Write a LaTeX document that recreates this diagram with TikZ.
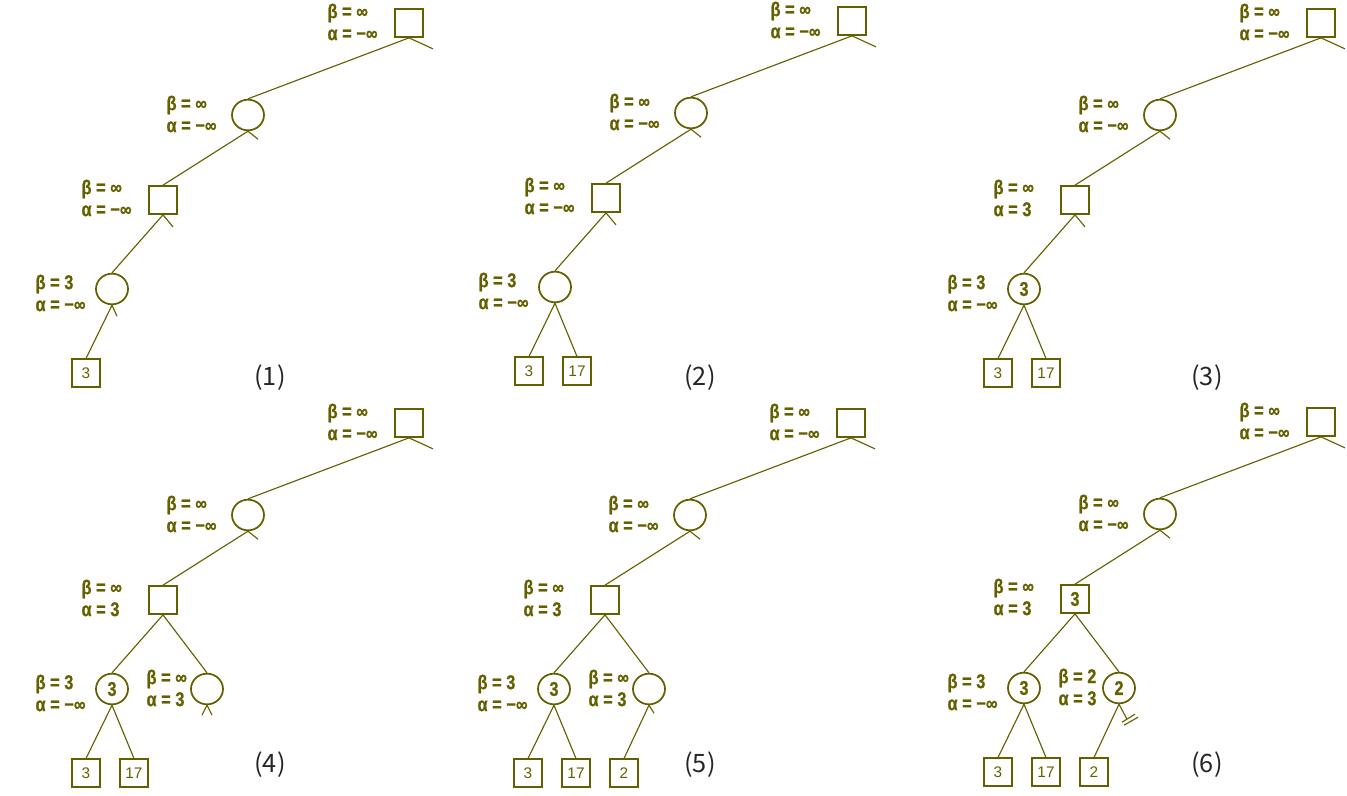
\documentclass[tikz,border=0pt]{standalone}
\usepackage{fontspec}
\usepackage{tikz}
\usetikzlibrary{shapes.geometric}
\newfontfamily\labfont[FakeStretch=0.82,FakeBold=0.6]{Liberation Sans}
\newfontfamily\leaffont{Liberation Sans}
\newfontfamily\capfont{Noto Sans CJK JP}
\definecolor{treeolive}{RGB}{100,96,0}

\begin{document}
\begin{tikzpicture}[x=0.75pt, y=-0.75pt, treeolive, line width=0.85pt,
    maxnode/.style={draw, rectangle, minimum size=21pt, inner sep=0pt, line width=1.3pt,
      font=\labfont\bfseries\fontsize{15}{16}\selectfont},
    minnode/.style={draw, ellipse, minimum width=24pt, minimum height=23pt, inner sep=0pt, line width=1.3pt,
      font=\labfont\bfseries\fontsize{15}{16}\selectfont},
    leaf/.style={draw, rectangle, minimum size=20.5pt, inner sep=0pt, line width=1.3pt,
      font=\leaffont\fontsize{11.5}{12}\selectfont},
    ab/.style={anchor=west, align=left, inner sep=0pt,
      font=\labfont\bfseries\fontsize{15}{16.5}\selectfont},
    caption/.style={text=black!85, font=\capfont\fontsize{19}{20}\selectfont}]
  \useasboundingbox (0,0) rectangle (1347,796);

  % upper part, same in every step
  \foreach \p/\dx/\dy/\cx/\cy in {1/0/0/270/378, 2/443/-2/257/380, 3/912/0/295/378,
                                 4/0/400/270/365, 5/442/400/258/365, 6/912/399/295/366}{
    \begin{scope}[shift={(\dx,\dy)}]
      \node[maxnode] (r\p) at (409,23) {};
      \node[ab] (rlab\p) at (327,22) {β = ∞\\α = −∞};
      \node[minnode] (u\p) at (248,115) {};
      \node[ab] (ulab\p) at (166,114) {β = ∞\\α = −∞};
      \node[caption] (cap\p) at (\cx,\cy) {(\p)};
      \draw (r\p.south) -- (u\p.north);
      \draw (r\p.south) -- ++(24,11);
      \draw (u\p.south) -- ++(10,8);
    \end{scope}
  }

  % step 1
  \begin{scope}
    \node[maxnode] (q1) at (163,200) {};
    \node[ab] (qlab1) at (81,198) {β = ∞\\α = −∞};
    \node[minnode] (a1) at (112,289) {};
    \node[ab] (alab1) at (35,293) {β = 3\\α = −∞};
    \node[leaf] (x1) at (86,373) {3};
    \draw (u1.south) -- (q1.north);
    \draw (q1.south) -- ++(10,12);
    \draw (q1.south) -- (a1.north);
    \draw (a1.south) -- ++(5,11);
    \draw (a1.south) -- (x1.north);
  \end{scope}

  % step 2
  \begin{scope}[shift={(443,-2)}]
    \node[maxnode] (q2) at (163,200) {};
    \node[ab] (qlab2) at (81,198) {β = ∞\\α = −∞};
    \node[minnode] (a2) at (112,289) {};
    \node[ab] (alab2) at (35,293) {β = 3\\α = −∞};
    \node[leaf] (x2) at (86,373) {3};
    \node[leaf] (y2) at (134,373) {17};
    \draw (u2.south) -- (q2.north);
    \draw (q2.south) -- ++(10,12);
    \draw (q2.south) -- (a2.north);
    \draw (a2.south) -- (x2.north);
    \draw (a2.south) -- (y2.north);
  \end{scope}

  % step 3
  \begin{scope}[shift={(912,0)}]
    \node[maxnode] (q3) at (163,200) {};
    \node[ab] (qlab3) at (81,198) {β = ∞\\α = 3};
    \node[minnode] (a3) at (112,289) {3};
    \node[ab] (alab3) at (35,293) {β = 3\\α = −∞};
    \node[leaf] (x3) at (86,373) {3};
    \node[leaf] (y3) at (134,373) {17};
    \draw (u3.south) -- (q3.north);
    \draw (q3.south) -- ++(10,12);
    \draw (q3.south) -- (a3.north);
    \draw (a3.south) -- (x3.north);
    \draw (a3.south) -- (y3.north);
  \end{scope}

  % step 4
  \begin{scope}[shift={(0,400)}]
    \node[maxnode] (q4) at (163,200) {};
    \node[ab] (qlab4) at (81,198) {β = ∞\\α = 3};
    \node[minnode] (a4) at (112,289) {3};
    \node[ab] (alab4) at (35,293) {β = 3\\α = −∞};
    \node[minnode] (b4) at (207,289) {};
    \node[ab] (blab4) at (146,288) {β = ∞\\α = 3};
    \node[leaf] (x4) at (86,373) {3};
    \node[leaf] (y4) at (134,373) {17};
    \draw (u4.south) -- (q4.north);
    \draw (q4.south) -- (a4.north);
    \draw (q4.south) -- (b4.north);
    \draw (a4.south) -- (x4.north);
    \draw (a4.south) -- (y4.north);
    \draw (b4.south) -- ++(-5,10);
    \draw (b4.south) -- ++(5,10);
  \end{scope}

  % step 5
  \begin{scope}[shift={(442,400)}]
    \node[maxnode] (q5) at (163,200) {};
    \node[ab] (qlab5) at (81,198) {β = ∞\\α = 3};
    \node[minnode] (a5) at (112,289) {3};
    \node[ab] (alab5) at (35,293) {β = 3\\α = −∞};
    \node[minnode] (b5) at (207,289) {};
    \node[ab] (blab5) at (146,288) {β = ∞\\α = 3};
    \node[leaf] (x5) at (86,373) {3};
    \node[leaf] (y5) at (134,373) {17};
    \node[leaf] (z5) at (182,373) {2};
    \draw (u5.south) -- (q5.north);
    \draw (q5.south) -- (a5.north);
    \draw (q5.south) -- (b5.north);
    \draw (a5.south) -- (x5.north);
    \draw (a5.south) -- (y5.north);
    \draw (b5.south) -- (z5.north);
    \draw (b5.south) -- ++(5,8);
  \end{scope}

  % step 6, cut
  \begin{scope}[shift={(912,399)}]
    \node[maxnode] (q6) at (163,200) {3};
    \node[ab] (qlab6) at (81,198) {β = ∞\\α = 3};
    \node[minnode] (a6) at (112,289) {3};
    \node[ab] (alab6) at (35,293) {β = 3\\α = −∞};
    \node[minnode] (b6) at (207,289) {2};
    \node[ab] (blab6) at (146,288) {β = 2\\α = 3};
    \node[leaf] (x6) at (86,373) {3};
    \node[leaf] (y6) at (134,373) {17};
    \node[leaf] (z6) at (182,373) {2};
    \draw (u6.south) -- (q6.north);
    \draw (q6.south) -- (a6.north);
    \draw (q6.south) -- (b6.north);
    \draw (a6.south) -- (x6.north);
    \draw (a6.south) -- (y6.north);
    \draw (b6.south) -- (z6.north);
    \draw (b6.south) -- ++(8,15) coordinate (k6);
    \draw ([shift={(-5,3)}]k6) -- ([shift={(8,-5)}]k6);  %cut mark
    \draw ([shift={(-3,6)}]k6) -- ([shift={(11,-2)}]k6);
  \end{scope}
\end{tikzpicture}
\end{document}
